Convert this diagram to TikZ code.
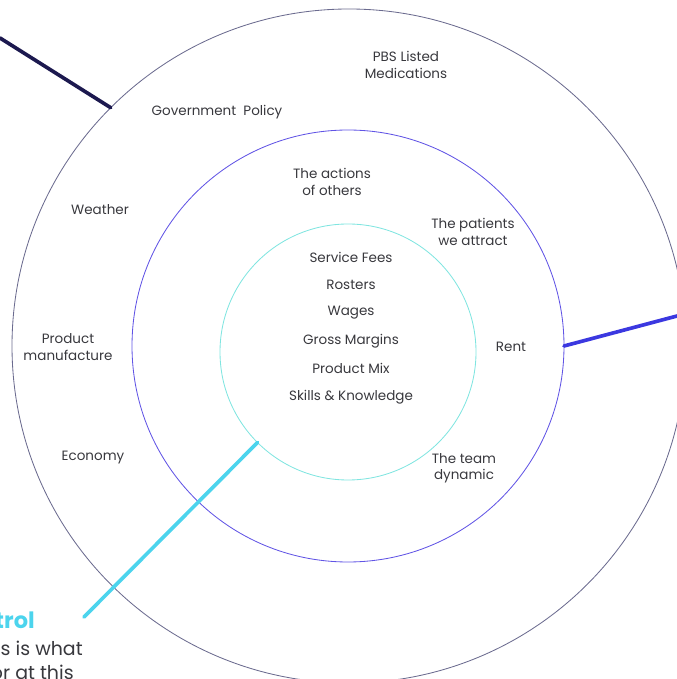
\documentclass[tikz,border=0pt]{standalone}
\usepackage{fontspec}
\setmainfont{Poppins}
\usepackage{tikz}
\usetikzlibrary{positioning}

\begin{document}
\begin{tikzpicture}
%
\useasboundingbox (0,0) rectangle (16.925cm,16.975cm);
%
\definecolor{cout}{rgb}{0.42,0.42,0.56}
\definecolor{cmid}{rgb}{0.38,0.33,0.90}
\definecolor{cin}{rgb}{0.50,0.90,0.88}
\definecolor{clnavy}{rgb}{0.11,0.10,0.31}
\definecolor{clblue}{rgb}{0.23,0.22,0.88}
\definecolor{clcyan}{rgb}{0.30,0.83,0.93}
\definecolor{ctxt}{rgb}{0.22,0.22,0.24}
%
\tikzset{ring/.style={circle,inner sep=0pt,outer sep=0pt,line width=0.6pt},
         lbl/.style={text=ctxt,font=\fontsize{9.6}{11.5}\selectfont,align=center,inner sep=1pt},
         spoke/.style={line width=2.6pt,line cap=round}}
%
\node[ring,draw=cout,minimum size=16.85cm] (outer) at (8.725cm,8.325cm) {};
\node[ring,draw=cmid,minimum size=10.8cm] (middle) at (8.7cm,8.325cm) {};
\node[ring,draw=cin,minimum size=6.4cm] (inner) at (8.7cm,8.175cm) {};
%
\coordinate (navyend) at (0cm,16.025cm);
\coordinate (blueend) at (16.925cm,9.075cm);
\coordinate (cyanend) at (2.1cm,1.55cm);
%
\draw[spoke,clnavy] (outer.135) -- (navyend);
\draw[spoke,clblue] (middle.0) -- (blueend);
\draw[spoke,clcyan] (inner.225) -- (cyanend);
%
\node[lbl] (pbs) at (10.15cm,15.35cm) {PBS Listed\\Medications};
\node[lbl] (govt) at (5.425cm,14.175cm) {Government\ \ Policy};
\node[lbl] (weather) at (2.5cm,11.725cm) {Weather};
\node[lbl] (manuf) at (1.7cm,8.3cm) {Product\\manufacture};
\node[lbl] (economy) at (2.325cm,5.525cm) {Economy};
%
\node[lbl] (actions) at (8.3cm,12.425cm) {The actions\\of others};
\node[lbl] (patients) at (11.825cm,11.175cm) {The patients\\we attract};
\node[lbl] (rent) at (12.775cm,8.3cm) {Rent};
\node[lbl] (team) at (11.6cm,5.275cm) {The team\\dynamic};
%
\node[lbl] (fees) at (8.775cm,10.55cm) {Service Fees};
\node[lbl] (rosters) at (8.775cm,9.85cm) {Rosters};
\node[lbl] (wages) at (8.775cm,9.15cm) {Wages};
\node[lbl] (margins) at (8.775cm,8.45cm) {Gross Margins};
\node[lbl] (mix) at (8.775cm,7.775cm) {Product Mix};
\node[lbl] (skills) at (8.775cm,7.05cm) {Skills \& Knowledge};
%
\node[anchor=east,inner sep=0pt,text=clcyan,font=\fontsize{16}{18}\selectfont\bfseries] (control) at (0.875cm,1.475cm) {Control};
\node[anchor=east,inner sep=0pt,text=ctxt,font=\fontsize{13.5}{16}\selectfont] (desc1) at (2.075cm,0.775cm) {This is what};
\node[anchor=east,inner sep=0pt,text=ctxt,font=\fontsize{13.5}{16}\selectfont] (desc2) at (1.85cm,0.175cm) {for at this};
%
\end{tikzpicture}
\end{document}
